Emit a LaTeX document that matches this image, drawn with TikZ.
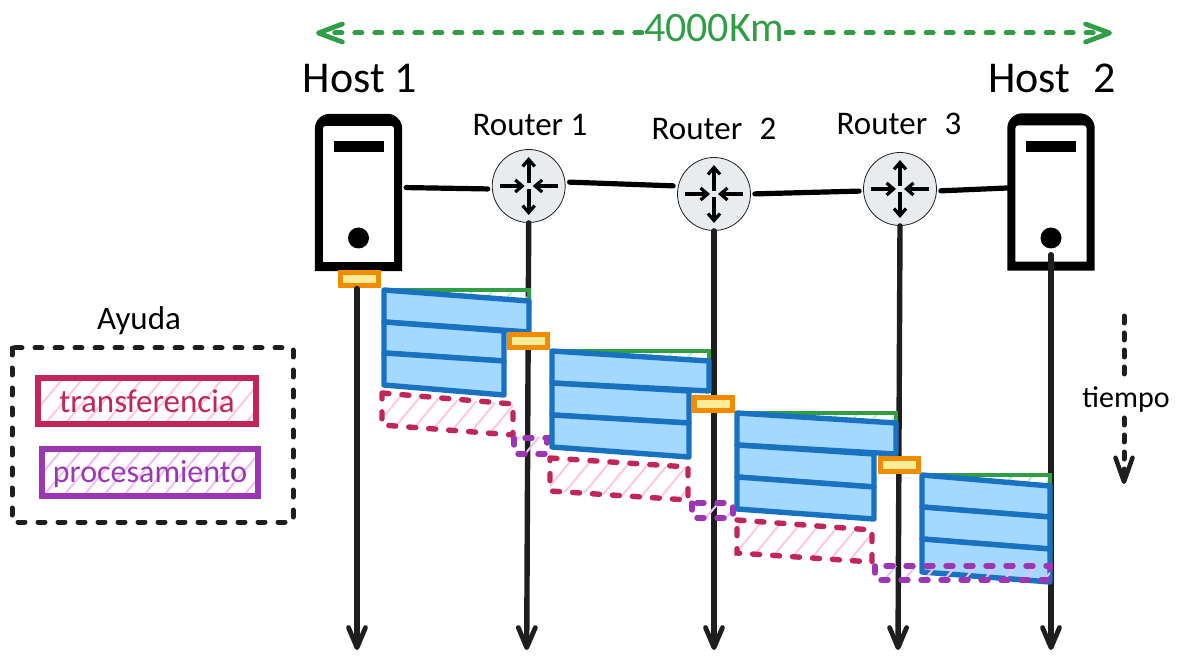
\documentclass[tikz,border=0pt]{standalone}
\usepackage{fontspec}
\setmainfont{Carlito}
\usetikzlibrary{arrows.meta,positioning,calc}
\definecolor{ink}{HTML}{1E1E1E}
\definecolor{distgreen}{HTML}{2F9E44}
\definecolor{wedgefill}{HTML}{B2F2BB}
\definecolor{packblue}{HTML}{1971C2}
\definecolor{packfill}{HTML}{A5D8FF}
\definecolor{transred}{HTML}{C2255C}
\definecolor{transfill}{HTML}{FFC9D9}
\definecolor{procpurple}{HTML}{9C36B5}
\definecolor{procfill}{HTML}{EEBEFA}
\definecolor{queueorange}{HTML}{F08C00}
\definecolor{queuefill}{HTML}{FFEC99}
\definecolor{routerfill}{HTML}{E9ECEF}
\tikzset{
host_box/.style={rectangle, minimum width=87pt, minimum height=157pt, inner sep=0pt},
host_bar/.style={rectangle, fill=black, minimum width=50pt, minimum height=11pt, inner sep=0pt},
host_led/.style={circle, fill=black, minimum size=21pt, inner sep=0pt},
router_node/.style={circle, draw=ink, line width=0.8pt, fill=routerfill, minimum size=73pt, inner sep=0pt},
router_arrow/.style={line width=4pt, color=black, -{Straight Barb[length=7pt,width=12pt,line width=3.2pt]}},
link/.style={line width=5.2pt, line cap=round, color=black, shorten >=4pt, shorten <=4pt},
timeline/.style={line width=5.4pt, color=ink, line cap=round, -{Straight Barb[length=20pt,width=17pt,line width=4.8pt,round]}},
queue_item/.style={rectangle, draw=queueorange, line width=5pt, fill=queuefill, minimum width=38pt, minimum height=13pt, inner sep=0pt},
pack_row/.style={draw=packblue, line width=5.4pt, fill=packfill, line join=round},
pack_wedge/.style={draw=distgreen, line width=3.8pt},
trans_slot/.style={draw=transred, line width=5.4pt, dash pattern=on 7pt off 13pt, line cap=round},
proc_slot/.style={draw=procpurple, line width=5.4pt, dash pattern=on 7pt off 13pt, line cap=round},
legend_item/.style={rectangle, line width=6pt, inner sep=0pt},
small_text/.style={font=\fontsize{33}{35}\selectfont},
big_text/.style={font=\fontsize{44}{46}\selectfont},
dist_line/.style={draw=distgreen, line width=5pt, dash pattern=on 7pt off 13pt, line cap=round, -{Straight Barb[length=24pt,width=18pt,line width=4.8pt,round]}},
time_line/.style={draw=ink, line width=5pt, dash pattern=on 7pt off 10pt, line cap=round}
}
% slanted fill lines: colour, clip path, first x, last x, base y
\newcommand{\hatchfill}[5]{
    \begin{scope}
        \clip #2;
        \foreach \hx in {#3,\numexpr#3+20\relax,...,#4} {
            \draw[color=#1, line width=2pt] (\hx,#5) -- ++(60,-72);
        }
    \end{scope}
}
\begin{document}
\begin{tikzpicture}[x=1pt,y=-1pt]
    \useasboundingbox (0,0) rectangle (1179,660);
    % distance
    \node[text=distgreen, font=\fontsize{42}{44}\selectfont, inner sep=0pt] (dist) at (714,28) {4000Km};
    \coordinate (dist_l) at (316,33);
    \coordinate (dist_r) at (1112,33);
    \draw[dist_line] ($(dist.west |- dist_l)+(-2,0)$) -- (dist_l);
    \draw[dist_line] ($(dist.east |- dist_r)+(2,0)$) -- (dist_r);

    % timeline ends
    \coordinate (bottom) at (0,650);

    % hosts and routers
    \node[host_box] (host_1) at (358.5,192.5) {};
    \node[host_box] (host_2) at (1051,192) {};
    \foreach \h in {host_1,host_2} {
        \fill[black, even odd rule] (\h.south west) [rounded corners=15pt] -- (\h.north west) -- (\h.north east) [sharp corners] -- (\h.south east) -- cycle
            ($(\h.south west)+(8,-9)$) [rounded corners=3pt] -- ($(\h.north west)+(8,12)$) -- ($(\h.north east)+(-8,12)$) [sharp corners] -- ($(\h.south east)+(-8,-9)$) -- cycle;
    }
    \node[host_bar] (bar_1) at (358.5,146.5) {};
    \node[host_bar] (bar_2) at (1051,146.5) {};
    \node[host_led] (led_1) at (358.5,238) {};
    \node[host_led] (led_2) at (1051,238) {};
    \node[big_text] (host_1_label) at (360,79) {Host 1};
    \node[big_text] (host_2_label) at (1052,78) {Host\hspace{0.3em} 2};
    \node[router_node] (router_1) at (528.7,186) {};
    \node[router_node] (router_2) at (714,194) {};
    \node[router_node] (router_3) at (900,189) {};
    \node[small_text] (router_1_label) at (530,125) {Router 1};
    \node[small_text] (router_2_label) at (714,129) {Router\hspace{0.3em} 2};
    \node[small_text] (router_3_label) at (899,124) {Router\hspace{0.3em} 3};
    \foreach \r in {router_1,router_2,router_3} {
        \draw[router_arrow] ($(\r)+(0,-3)$) -- ($(\r)+(0,-29)$);
        \draw[router_arrow] ($(\r)+(0,3)$) -- ($(\r)+(0,29)$);
        \draw[router_arrow] ($(\r)+(-29,0)$) -- ($(\r)+(-4,0)$);
        \draw[router_arrow] ($(\r)+(29,0)$) -- ($(\r)+(4,0)$);
    }
    \draw[link] ([yshift=5pt]host_1.east) -- ([yshift=-3pt]router_1.west);
    \draw[link] ([yshift=4pt]router_1.east) -- ([yshift=8pt]router_2.west);
    \draw[link] (router_2.east) -- ([yshift=-2pt]router_3.west);
    \draw[link, shorten >=0pt] ([yshift=-2pt]router_3.east) -- ([yshift=4pt]host_2.west);

    % time lines
    \node[queue_item] (queue_0) at (359,279.5) {};
    \draw[timeline] ([xshift=-2pt]queue_0.south) -- ($(queue_0.south |- bottom)+(-2,0)$);
    \draw[timeline] (router_1.south) -- ($(router_1.south |- bottom)+(-2,0)$);
    \draw[timeline] (router_2.south) -- (router_2.south |- bottom);
    \draw[timeline] (router_3.south) -- ($(router_3.south |- bottom)+(-2,0)$);
    \draw[timeline, shorten <=6pt] (led_2.south) -- (led_2.south |- bottom);

    % packets
    \hatchfill{wedgefill}{(384,290) -- (529,290) -- (529,301) -- cycle}{440}{520}{330}
    \hatchfill{wedgefill}{(552,351) -- (709,351) -- (709,361) -- cycle}{620}{700}{391}
    \hatchfill{wedgefill}{(737,413) -- (896,413) -- (896,423) -- cycle}{805}{885}{453}
    \hatchfill{wedgefill}{(922,475) -- (1050,475) -- (1050,486) -- cycle}{960}{1040}{515}
    \draw[pack_wedge] (384,290) -- (529,290) -- (529,301);
    \draw[pack_wedge] (552,351) -- (709,351) -- (709,361);
    \draw[pack_wedge] (737,413) -- (896,413) -- (896,423);
    \draw[pack_wedge] (922,475) -- (1050,475) -- (1050,486);

    \draw[pack_row] (384,290) -- (529,301) -- (529,332) -- (384,322) -- cycle;
    \draw[pack_row] (384,322) -- (504,331) -- (504,361) -- (384,353) -- cycle;
    \draw[pack_row] (384,353) -- (504,361) -- (504,395) -- (384,385) -- cycle;

    \draw[pack_row] (552,351) -- (709,361) -- (709,391) -- (552,383) -- cycle;
    \draw[pack_row] (552,383) -- (689,391) -- (689,423) -- (552,415) -- cycle;
    \draw[pack_row] (552,415) -- (689,423) -- (689,457) -- (552,447) -- cycle;

    \draw[pack_row] (737,413) -- (896,423) -- (896,454) -- (737,445) -- cycle;
    \draw[pack_row] (737,445) -- (874,454) -- (874,487) -- (737,477) -- cycle;
    \draw[pack_row] (737,477) -- (874,487) -- (874,519) -- (737,509) -- cycle;

    \draw[pack_row] (922,475) -- (1050,486) -- (1050,517) -- (922,507) -- cycle;
    \draw[pack_row] (922,507) -- (1050,517) -- (1050,549) -- (922,539) -- cycle;
    \draw[pack_row] (922,539) -- (1050,549) -- (1050,582) -- (922,572) -- cycle;

    % transfer and processing
    \hatchfill{transfill}{(382,393) -- (513,404) -- (513,435) -- (382,425) -- cycle}{340}{500}{445}
    \hatchfill{transfill}{(550,458) -- (688,467) -- (688,500) -- (550,491) -- cycle}{510}{680}{510}
    \hatchfill{transfill}{(737,520) -- (872,530) -- (872,562) -- (737,553) -- cycle}{700}{860}{572}
    \hatchfill{procfill}{(514,438) rectangle (547,454)}{500}{540}{460}
    \hatchfill{procfill}{(692,503) rectangle (733,518)}{680}{730}{525}
    \hatchfill{procfill}{(875,566) rectangle (1050,580)}{860}{1045}{585}
    \draw[trans_slot] (382,393) -- (513,404) -- (513,435) -- (382,425) -- cycle;
    \draw[trans_slot] (550,458) -- (688,467) -- (688,500) -- (550,491) -- cycle;
    \draw[trans_slot] (737,520) -- (872,530) -- (872,562) -- (737,553) -- cycle;
    \draw[proc_slot] (514,438) rectangle (547,454);
    \draw[proc_slot] (692,503) rectangle (733,518);
    \draw[proc_slot] (875,566) rectangle (1050,580);

    % queues
    \node[queue_item] (queue_1) at (528.5,341) {};
    \node[queue_item] (queue_2) at (713.5,404) {};
    \node[queue_item] (queue_3) at (899,464.5) {};

    % legend
    \node[small_text] (help_label) at (139,321) {Ayuda};
    \draw[draw=ink, line width=5pt, dash pattern=on 7pt off 13pt, line cap=round] (12,348) rectangle (293,522);
    \hatchfill{transfill}{(38,378) rectangle (256,425)}{0}{250}{430}
    \hatchfill{procfill}{(42,449) rectangle (258,496)}{0}{250}{500}
    \node[legend_item, draw=transred, minimum width=218pt, minimum height=46pt] (trans_key) at (147,401.5) {};
    \node[text=transred, small_text] (trans_text) at (147,401) {transferencia};
    \node[legend_item, draw=procpurple, minimum width=216pt, minimum height=46pt] (proc_key) at (150,472.5) {};
    \node[text=procpurple, font=\fontsize{32}{34}\selectfont] (proc_text) at (150,474) {procesamiento};

    % time
    \node[font=\fontsize{30}{32}\selectfont, inner sep=0pt] (time_label) at (1126,400) {tiempo};
    \coordinate (time_top) at (1124,316);
    \coordinate (time_end) at (1124,484);
    \draw[time_line] (time_top) -- (time_top |- 0,383);
    \draw[time_line, -{Straight Barb[length=24pt,width=17pt,line width=4.5pt,round]}] (time_end |- 0,418) -- (time_end);
\end{tikzpicture}
\end{document}
